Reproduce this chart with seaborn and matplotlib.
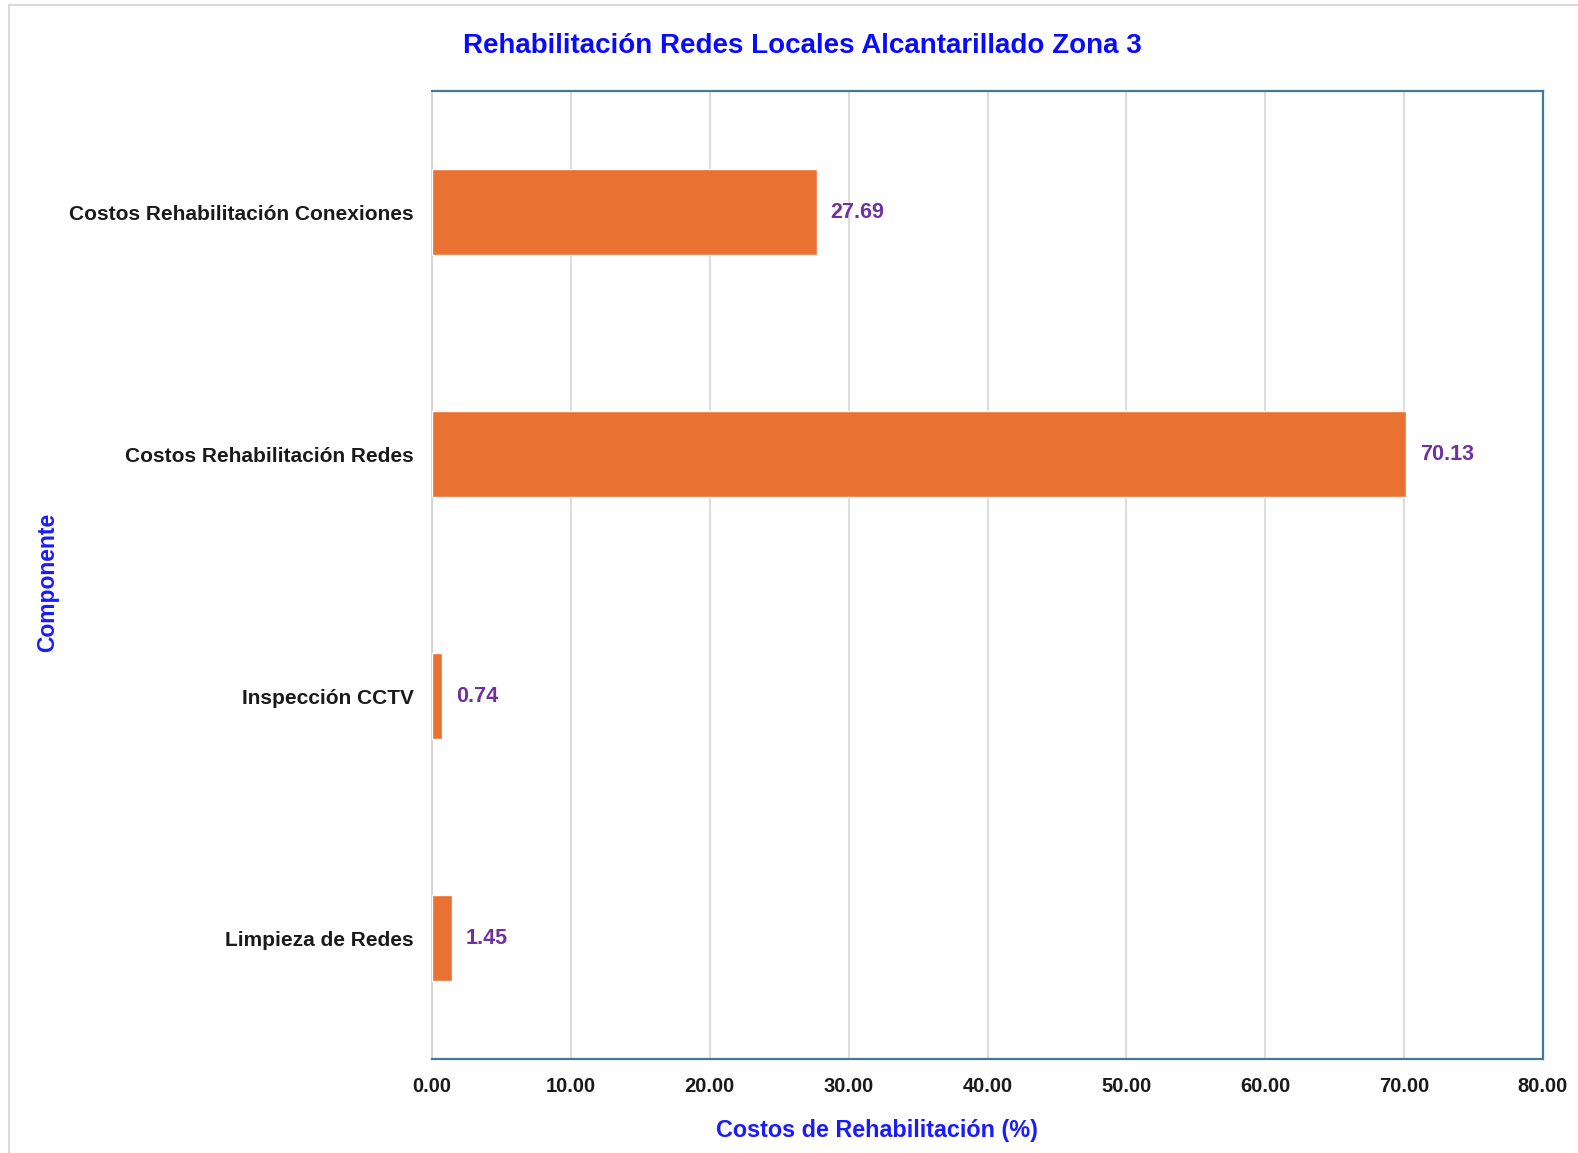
import matplotlib
matplotlib.use("Agg")
import matplotlib.pyplot as plt
import seaborn as sns
import pandas as pd
from matplotlib.patches import Rectangle

# Rehabilitation cost share per component (%)
componentes = [
    "Costos Rehabilitación Conexiones",
    "Costos Rehabilitación Redes",
    "Inspección CCTV",
    "Limpieza de Redes",
]
porcentajes = [27.69, 70.13, 0.74, 1.45]
x_ticks = [0, 10, 20, 30, 40, 50, 60, 70, 80]

df = pd.DataFrame({"Componente": componentes, "Porcentaje": porcentajes})

sns.set_theme(style="white")
plt.rcParams["font.family"] = ["Liberation Sans", "DejaVu Sans"]

W, H = 1578, 1153
ax_l, ax_r, ax_t, ax_b = 432, 1543, 91, 1059
fig = plt.figure(figsize=(W / 100, H / 100), dpi=100)
ax = fig.add_axes([ax_l / W, 1 - ax_b / H, (ax_r - ax_l) / W, (ax_b - ax_t) / H])

# light frame around the chart area
fig.patches.append(Rectangle((9 / W, -0.05), 1.2, 1 - 5 / H + 0.05,
                             transform=fig.transFigure, fill=False,
                             edgecolor="#d9d9d9", linewidth=1.5, zorder=0))

sns.barplot(data=df, y="Componente", x="Porcentaje", orient="h",
            color="#E97132", width=0.355, saturation=1, ax=ax, zorder=3)

ax.set_xlim(0, 80)
ax.set_xticks(x_ticks)
ax.set_xticklabels([f"{v:.2f}" for v in x_ticks], fontsize=14.5,
                   fontweight="bold", color="#1a1a1a")
ax.set_yticks(range(len(componentes)))
ax.set_yticklabels(componentes, fontsize=15, fontweight="bold", color="#1a1a1a")
ax.tick_params(axis="both", length=0)
ax.tick_params(axis="x", pad=13)
ax.tick_params(axis="y", pad=13)

ax.grid(axis="x", color="#d9d9d9", linewidth=1.3, zorder=0)
ax.set_axisbelow(True)
for s in ax.spines.values():
    s.set_visible(True)
    s.set_color("#41789C")
    s.set_linewidth(1.6)
ax.spines["left"].set_color("#d0d0d0")
ax.spines["left"].set_linewidth(1.2)

for cont in ax.containers:
    ax.bar_label(cont, labels=[f"{v:.2f}" for v in porcentajes], padding=10,
                 fontsize=15.5, fontweight="bold", color="#7030A0")

ax.set_xlabel("Costos de Rehabilitación (%)", fontsize=16.8, fontweight="bold",
              color="#1a1aff")
ax.xaxis.set_label_coords((877 - ax_l) / (ax_r - ax_l), -(1119 - ax_b) / (ax_b - ax_t))
ax.set_ylabel("Componente", fontsize=16.5, fontweight="bold", color="#1a1aff")
ax.yaxis.set_label_coords((59 - ax_l) / (ax_r - ax_l), (ax_b - 582) / (ax_b - ax_t))

fig.text(802 / W, 1 - 46 / H, "Rehabilitación Redes Locales Alcantarillado Zona 3",
         ha="center", va="center", fontsize=20, fontweight="bold", color="#0a0aff")

fig.savefig("out.png", dpi=100)
